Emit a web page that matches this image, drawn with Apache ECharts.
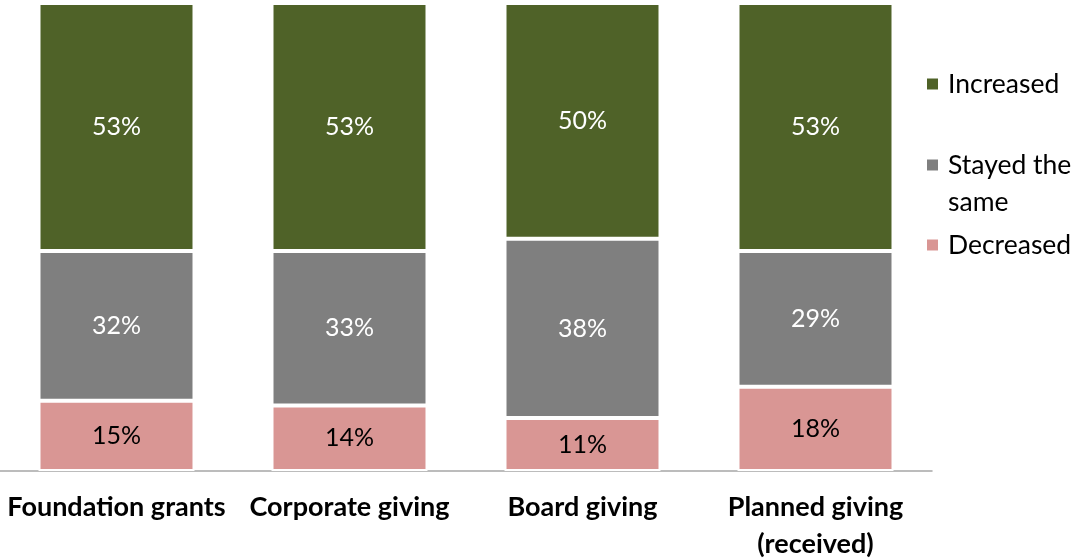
<!DOCTYPE html>
<html>
<head>
<meta charset="utf-8">
<script src="https://cdn.jsdelivr.net/npm/echarts@6/dist/echarts.min.js"></script>
<style>
  html, body { margin: 0; padding: 0; background: #fff; }
  #chart { width: 1074px; height: 559px; }
</style>
</head>
<body>
<div id="chart"></div>
<script>
'use strict';
// categories along the x axis
var categories = ['Foundation grants', 'Corporate giving', 'Board giving', 'Planned giving\n(received)'];
// share of respondents, per category (percent)
var decreased = [15, 14, 11.3, 18];
var stayedSame = [32, 33, 38.3, 29];
var increased = [53, 53, 50.4, 53];

var fontName = 'Lato';

function pctLabel(color) {
  return {
    show: true,
    position: 'inside',
    color: color,
    fontFamily: fontName,
    fontSize: 25,
    formatter: function(p) { return Math.round(p.value) + '%'; }
  };
}

function makeSeries(name, data, color, labelColor) {
  return {
    name: name,
    type: 'bar',
    stack: 'total',
    barWidth: 156,
    data: data,
    itemStyle: { color: color, borderColor: '#ffffff', borderWidth: 2 },
    label: pctLabel(labelColor)
  };
}

function legendFor(name, top, text) {
  return {
    data: [name],
    left: 925,
    top: top,
    padding: 0,
    itemWidth: 13,
    itemHeight: 13,
    itemGap: 0,
    icon: 'rect',
    formatter: function() { return text; },
    textStyle: { fontFamily: fontName, fontSize: 26.5, color: '#000', lineHeight: 37, padding: [0, 0, 0, 4] },
    selectedMode: false
  };
}

var chart = echarts.init(document.getElementById('chart'));
chart.setOption({
  animation: false,
  grid: { left: 0, right: 142, top: 3, bottom: 88, containLabel: false, outerBoundsMode: 'none' },
  legend: [
    legendFor('Increased', 65.5, 'Increased'),
    legendFor('Stayed the same', 109.5, '\nStayed the\nsame'),
    legendFor('Decreased', 226.5, 'Decreased')
  ],
  xAxis: {
    type: 'category',
    data: categories,
    axisTick: { show: false },
    axisLine: { lineStyle: { color: '#a6a6a6', width: 1.5 } },
    axisLabel: {
      interval: 0,
      margin: 18,
      color: '#000',
      fontFamily: fontName,
      fontWeight: 'bold',
      fontSize: 27,
      lineHeight: 37
    }
  },
  yAxis: { type: 'value', min: 0, max: 100, show: false },
  series: [
    makeSeries('Decreased', decreased, '#D99694', '#000'),
    makeSeries('Stayed the same', stayedSame, '#7F7F7F', '#fff'),
    makeSeries('Increased', increased, '#4F6228', '#fff')
  ]
});
</script>
</body>
</html>
